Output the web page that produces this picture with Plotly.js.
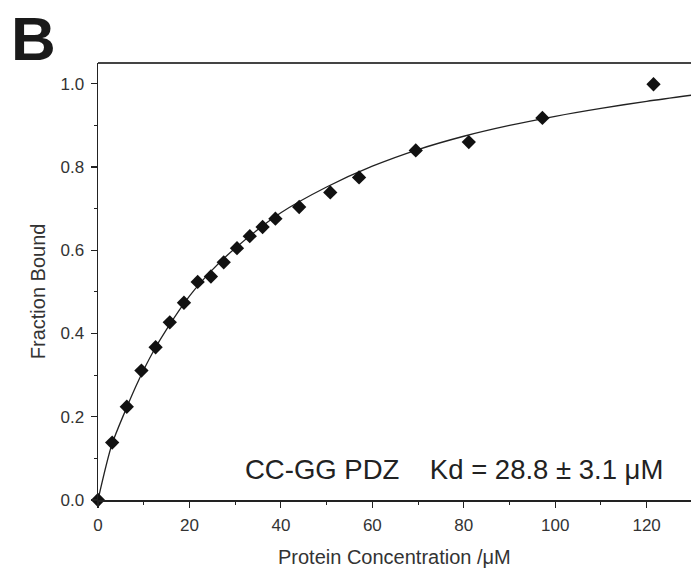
<!DOCTYPE html>
<html>
<head>
<meta charset="utf-8">
<script src="https://cdn.plot.ly/plotly-3.0.1.min.js"></script>
<style>html,body{margin:0;padding:0;background:#fff;}#chart{width:691px;height:568px;}</style>
</head>
<body>
<div id="chart"></div>
<script>
// Measured points
const concentration = [0, 3.1, 6.3, 9.5, 12.6, 15.7, 18.8, 21.8, 24.7, 27.5, 30.4, 33.2, 36.0, 38.8, 44.0, 50.8, 57.1, 69.5, 81.1, 97.2, 121.5];
const fractionBound = [0, 0.138, 0.224, 0.311, 0.367, 0.427, 0.474, 0.524, 0.537, 0.571, 0.605, 0.634, 0.656, 0.676, 0.704, 0.739, 0.775, 0.840, 0.860, 0.918, 0.999];
// Fitted curve
const fitX = [0, 3, 6, 9, 12, 15, 20, 25, 30, 40, 50, 60, 70, 80, 90, 100, 110, 120, 130];
const fitY = [0, 0.132, 0.215, 0.29, 0.355, 0.41, 0.49, 0.553, 0.605, 0.69, 0.752, 0.802, 0.842, 0.874, 0.9, 0.922, 0.941, 0.958, 0.973];
const xTicks = [0, 20, 40, 60, 80, 100, 120];
const yTicks = [0, 0.2, 0.4, 0.6, 0.8, 1.0];
const yTickText = ['0.0', '0.2', '0.4', '0.6', '0.8', '1.0'];
const panelLabel = 'B';
const xTitle = 'Protein Concentration /\u03bcM';
const yTitle = 'Fraction Bound';
const noteText = 'CC-GG PDZ    Kd = 28.8 \u00b1 3.1 \u03bcM';

const ink = '#222';
const font = 'Liberation Sans, Arial, sans-serif';

const traces = [
  {x: fitX, y: fitY, mode: 'lines', line: {color: ink, width: 1.3, shape: 'spline', smoothing: 0.8}, hoverinfo: 'skip'},
  {x: concentration, y: fractionBound, mode: 'markers', marker: {symbol: 'diamond', size: 11, color: '#111'}, cliponaxis: false}
];

const layout = {
  width: 691, height: 568,
  margin: {l: 98, r: 0, t: 63, b: 68},
  paper_bgcolor: '#fff', plot_bgcolor: '#fff',
  showlegend: false,
  font: {family: font, color: ink, size: 17},
  xaxis: {
    range: [0, 129.7], showgrid: false, zeroline: false,
    showline: true, linecolor: ink, linewidth: 1.5,
    ticks: 'outside', ticklen: 6, tickwidth: 1.2, tickcolor: ink,
    tickvals: xTicks, ticktext: xTicks.map(String),
    tickfont: {size: 17, color: '#333'}, ticklabelstandoff: 3,
    minor: {dtick: 10, tick0: 0, ticks: 'outside', ticklen: 3, tickwidth: 1, tickcolor: ink}
  },
  yaxis: {
    range: [0, 1.05], showgrid: false, zeroline: false,
    showline: true, linecolor: ink, linewidth: 1.5,
    ticks: 'outside', ticklen: 6, tickwidth: 1.2, tickcolor: ink,
    tickvals: yTicks, ticktext: yTickText,
    tickfont: {size: 17, color: '#333'}, ticklabelstandoff: 3,
    minor: {dtick: 0.1, tick0: 0, ticks: 'outside', ticklen: 3, tickwidth: 1, tickcolor: ink}
  },
  shapes: [
    {type: 'line', xref: 'paper', yref: 'paper', x0: 0, x1: 1, y0: 1, y1: 1, line: {color: '#444', width: 1.8}}
  ],
  annotations: [
    {text: panelLabel, xref: 'paper', yref: 'paper', x: -0.15, y: 1.14, xanchor: 'left', yanchor: 'top',
     showarrow: false, font: {family: font, size: 62, color: '#1a1a1a', weight: 'bold'}},
    {text: xTitle, xref: 'paper', yref: 'paper', x: 0.5, y: -0.13, xanchor: 'center', yanchor: 'middle',
     showarrow: false, font: {family: font, size: 20, color: '#333'}},
    {text: yTitle, xref: 'paper', yref: 'paper', x: -0.101, y: 0.478, xanchor: 'center', yanchor: 'middle',
     textangle: -90, showarrow: false, font: {family: font, size: 20, color: '#333'}},
    {text: noteText, xref: 'paper', yref: 'paper', x: 0.600, y: 0.07, xanchor: 'center', yanchor: 'middle',
     showarrow: false, font: {family: font, size: 27.5, color: '#222'}}
  ]
};

Plotly.newPlot('chart', traces, layout, {displayModeBar: false, staticPlot: true});
</script>
</body>
</html>
